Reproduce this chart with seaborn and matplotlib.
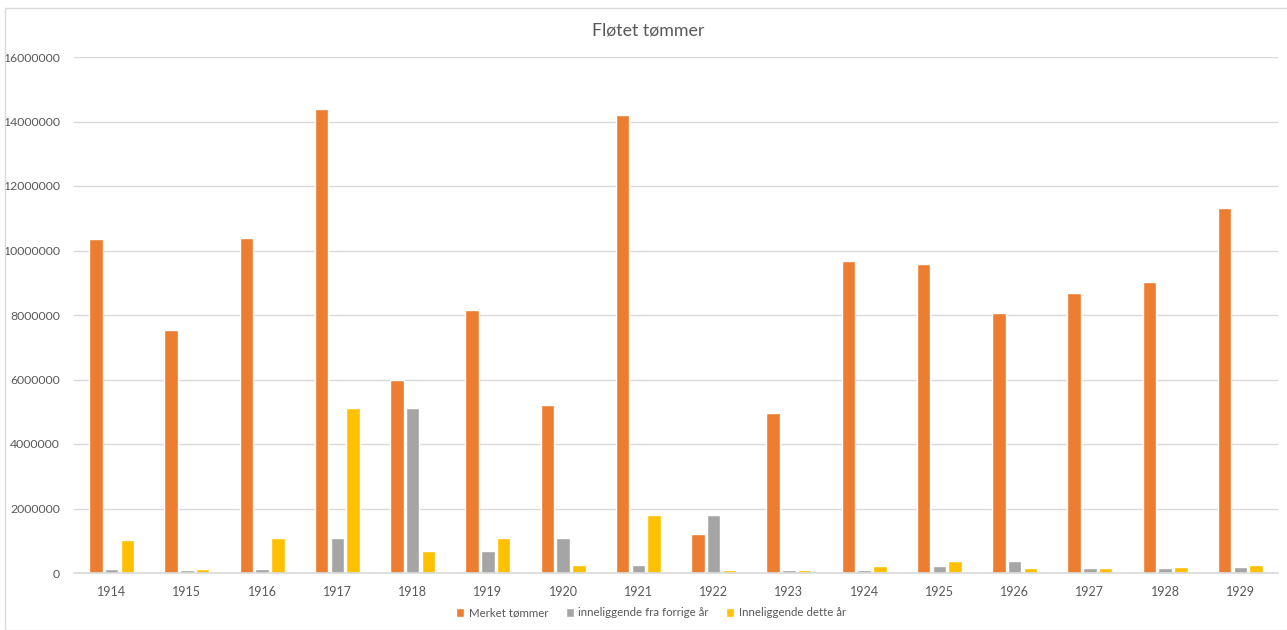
import matplotlib
matplotlib.use("Agg")
import matplotlib.pyplot as plt
import seaborn as sns
import pandas as pd
from matplotlib.ticker import FuncFormatter, MultipleLocator
from matplotlib.patches import Rectangle

years = ["1914", "1915", "1916", "1917", "1918", "1919", "1920", "1921",
         "1922", "1923", "1924", "1925", "1926", "1927", "1928", "1929"]
merket = [10360000, 7530000, 10390000, 14390000, 5980000, 8160000, 5210000, 14200000,
          1210000, 4960000, 9670000, 9580000, 8060000, 8680000, 9020000, 11320000]
fra_forrige = [135000, 90000, 110000, 1090000, 5110000, 690000, 1100000, 240000,
               1800000, 100000, 80000, 220000, 370000, 155000, 145000, 175000]
dette_aar = [1030000, 110000, 1090000, 5110000, 690000, 1100000, 240000, 1800000,
             100000, 80000, 220000, 370000, 155000, 145000, 175000, 250000]
series_names = ["Merket tømmer", "inneliggende fra forrige år", "Inneliggende dette år"]
colors = ["#ED7D31", "#A5A5A5", "#FFC000"]

rows = []
for name, vals in zip(series_names, [merket, fra_forrige, dette_aar]):
    for y, v in zip(years, vals):
        rows.append({"year": y, "series": name, "value": v})
df = pd.DataFrame(rows)

sns.set_theme(style="white")
plt.rcParams["font.family"] = ["Lato", "DejaVu Sans"]

fig = plt.figure(figsize=(12.87, 6.30), dpi=100)
ax = fig.add_axes([74 / 1287, 1 - 573 / 630, (1278 - 74) / 1287, (573 - 57) / 630])

sns.barplot(data=df, x="year", y="value", hue="series", order=years,
            hue_order=series_names, palette=colors, width=0.63, gap=0.15,
            saturation=1, ax=ax, legend=True)

ax.set_ylim(0, 16000000)
ax.set_xlim(-0.5, 15.5)
ax.yaxis.set_major_locator(MultipleLocator(2000000))
ax.yaxis.set_major_formatter(FuncFormatter(lambda v, p: f"{int(v)}"))
ax.grid(axis="y", color="#D9D9D9", linewidth=1)
ax.set_axisbelow(True)
for s in ["left", "right", "top"]:
    ax.spines[s].set_visible(False)
ax.spines["bottom"].set_color("#D9D9D9")
ax.spines["bottom"].set_linewidth(1.2)
ax.tick_params(axis="x", length=0, labelsize=9, colors="#595959", pad=9)
ax.tick_params(axis="y", length=0, labelsize=8.8, colors="#595959", pad=10)
ax.set_xlabel("")
ax.set_ylabel("")

fig.text(648 / 1287, 1 - 31 / 630, "Fløtet tømmer", ha="center", va="center",
         fontsize=12.8, color="#595959")

handles, labels = ax.get_legend_handles_labels()
ax.get_legend().remove()
fig.legend(handles, labels, loc="center", bbox_to_anchor=(651 / 1287, 1 - 613 / 630),
           ncol=3, frameon=False, fontsize=8.3, handlelength=0.7, handleheight=0.7,
           handletextpad=0.4, columnspacing=1.5, labelcolor="#595959")

fig.patches.append(Rectangle((5 / 1287, 0), 1.0, 1 - 8 / 630, transform=fig.transFigure,
                             fill=False, edgecolor="#D9D9D9", linewidth=1))

fig.savefig("out.png", dpi=100)
